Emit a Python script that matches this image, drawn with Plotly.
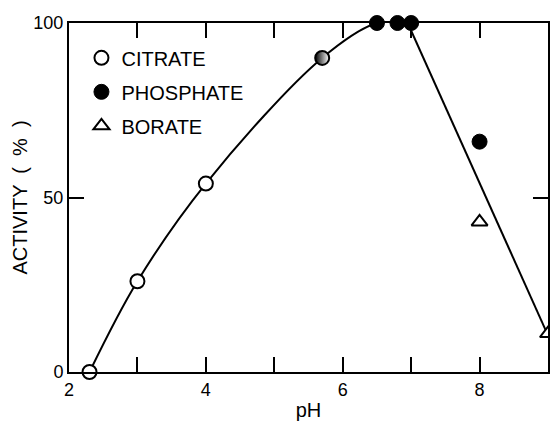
import plotly.graph_objects as go

# Data
citrate_ph = [2.3, 3.0, 4.0]
citrate_act = [0, 26, 54]
mixed_ph = [5.7]          # half-filled point (citrate/phosphate)
mixed_act = [90]
phosphate_ph = [6.5, 6.8, 7.0, 8.0]
phosphate_act = [100, 100, 100, 66]
borate_ph = [8.0, 9.0]
borate_act = [43, 11]

# Drawn curve (fitted by eye in the original)
curve_ph = [2.3, 3.0, 4.0, 5.7, 6.5, 6.95]
curve_act = [0, 26, 54, 90, 100, 100]
fall_ph = [6.95, 9.0]
fall_act = [100, 10.5]

x_tick_vals = [2, 3, 4, 5, 6, 7, 8, 9]
x_tick_text = ["2", "", "4", "", "6", "", "8", ""]
y_tick_vals = [0, 50, 100]
y_tick_text = ["0", "50", "100"]
x_range = [2, 9]
y_range = [0, 100]

FONT = "Liberation Sans"
fig = go.Figure()

fig.add_trace(go.Scatter(x=curve_ph, y=curve_act, mode="lines",
                         line=dict(color="black", width=2, shape="spline", smoothing=1.0),
                         showlegend=False, hoverinfo="skip"))
fig.add_trace(go.Scatter(x=fall_ph, y=fall_act, mode="lines",
                         line=dict(color="black", width=2),
                         showlegend=False, hoverinfo="skip"))

fig.add_trace(go.Scatter(x=citrate_ph, y=citrate_act, mode="markers", name="CITRATE",
                         legendgroup="a",
                         marker=dict(symbol="circle", size=14, color="white",
                                     line=dict(color="black", width=2)),
                         cliponaxis=False))
fig.add_trace(go.Scatter(x=phosphate_ph, y=phosphate_act, mode="markers", name="PHOSPHATE",
                         legendgroup="b",
                         marker=dict(symbol="circle", size=15, color="black",
                                     line=dict(color="black", width=1)),
                         cliponaxis=False))
fig.add_trace(go.Scatter(x=borate_ph, y=borate_act, mode="markers", name="BORATE",
                         legendgroup="c",
                         marker=dict(symbol="triangle-up", size=14, color="white",
                                     line=dict(color="black", width=2)),
                         cliponaxis=False))
fig.add_trace(go.Scatter(x=mixed_ph, y=mixed_act, mode="markers", showlegend=False,
                         marker=dict(symbol="circle", size=14, color="black",
                                     gradient=dict(type="horizontal", color="white"),
                                     line=dict(color="black", width=2)),
                         cliponaxis=False))

axis_common = dict(showline=True, linecolor="black", linewidth=2, mirror="allticks",
                   ticks="inside", ticklen=15, tickwidth=2, tickcolor="black",
                   showgrid=False, zeroline=False, automargin=False,
                   tickfont=dict(family=FONT, size=18, color="black"))

fig.update_layout(
    xaxis=dict(range=x_range, tickmode="array", tickvals=x_tick_vals, ticktext=x_tick_text,
               title=dict(text="pH", font=dict(family=FONT, size=20, color="black"), standoff=7),
               **axis_common),
    yaxis=dict(range=y_range, tickmode="array", tickvals=y_tick_vals, ticktext=y_tick_text,
               title=dict(text="ACTIVITY  (  %  )", font=dict(family=FONT, size=20, color="black"),
                          standoff=0),
               **axis_common),
)

fig.update_layout(
    width=550, height=421,
    margin=dict(l=69, r=2, t=23, b=49),
    paper_bgcolor="white", plot_bgcolor="white",
    font=dict(family=FONT, size=18, color="black"),
    legend=dict(x=0.026, y=0.956, xanchor="left", yanchor="top",
                bgcolor="rgba(0,0,0,0)", borderwidth=0,
                font=dict(family=FONT, size=20, color="black"),
                tracegroupgap=5),
)

fig.write_html("out.html", config={"displayModeBar": False},
               post_script="document.body.style.margin='0';")
